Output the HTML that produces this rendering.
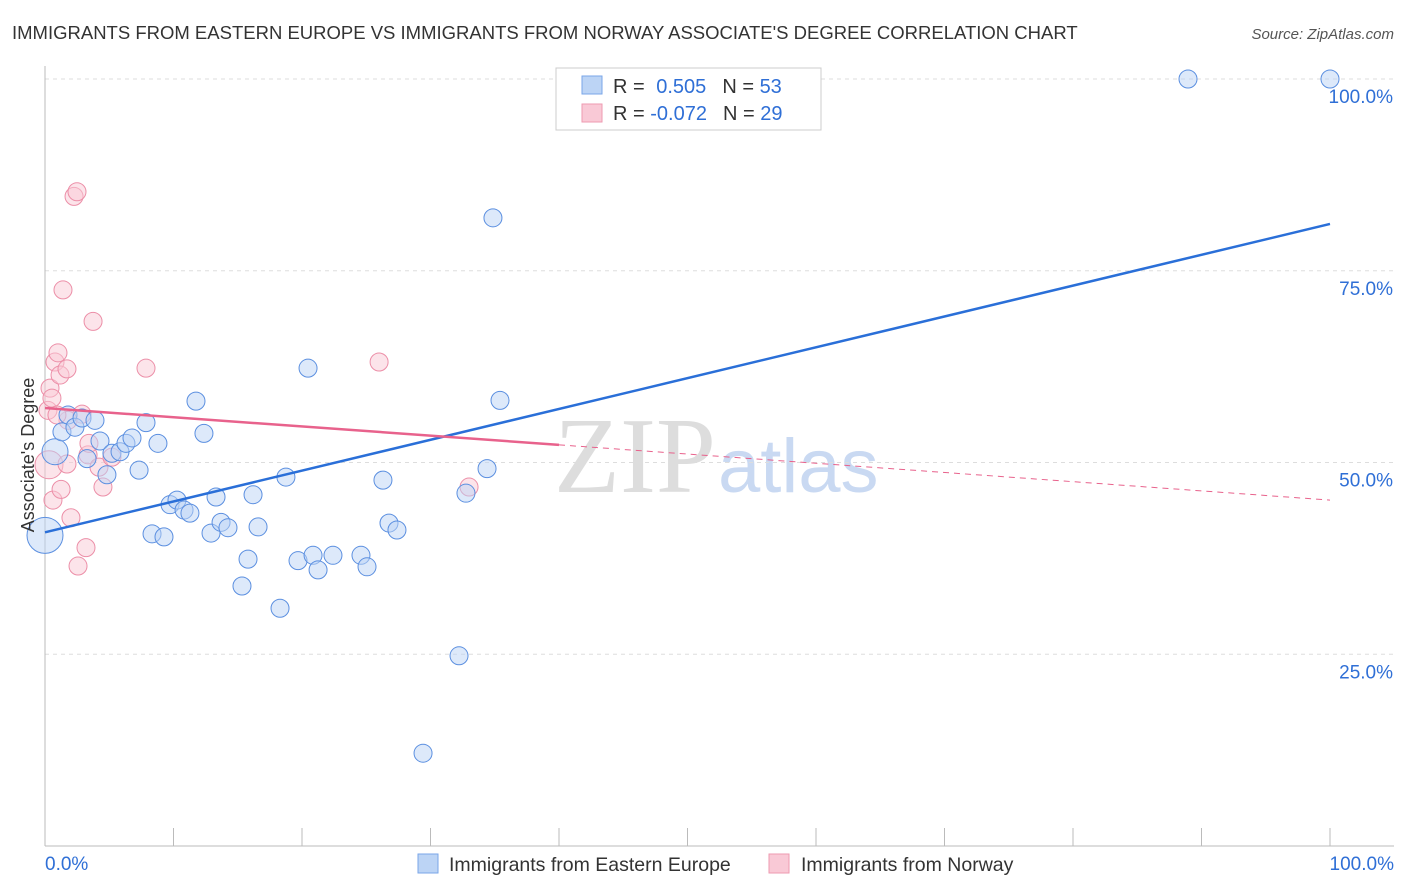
<!DOCTYPE html>
<html><head><meta charset="utf-8"><style>
body{margin:0;background:#fff;font-family:"Liberation Sans",sans-serif}
svg{display:block}
</style></head><body>
<svg id="chart" width="1406" height="892" xmlns="http://www.w3.org/2000/svg">
<text x="12" y="39" font-size="18.5" fill="#333">IMMIGRANTS FROM EASTERN EUROPE VS IMMIGRANTS FROM NORWAY ASSOCIATE'S DEGREE CORRELATION CHART</text>
<text x="1394" y="39" font-size="15" fill="#555" font-style="italic" text-anchor="end">Source: ZipAtlas.com</text>
<text x="716" y="492" font-size="108" fill="#ddd" font-family="Liberation Serif,serif" text-anchor="end">ZIP</text>
<text x="718" y="492" font-size="76" fill="#c9d9f2">atlas</text>
<g id="grid"></g><g id="axes"></g><g id="pts"></g><g id="lines"></g>
<text transform="translate(34,455) rotate(-90)" font-size="18" fill="#333" text-anchor="middle">Associate's Degree</text>
<g>
<rect x="556" y="68" width="265" height="62" fill="#fff" stroke="#ccc"/>
<rect x="582" y="76" width="20" height="18" fill="#bcd4f5" stroke="#7aa6e8"/>
<rect x="582" y="104" width="20" height="18" fill="#f9c9d6" stroke="#ee9ab0"/>
<text x="613" y="93" font-size="20" fill="#333">R = <tspan fill="#2f6fd6" dx="6">0.505</tspan><tspan dx="16" fill="#333">N = </tspan><tspan fill="#2f6fd6">53</tspan></text>
<text x="613" y="120" font-size="20" fill="#333">R = <tspan fill="#2f6fd6">-0.072</tspan><tspan dx="16" fill="#333">N = </tspan><tspan fill="#2f6fd6">29</tspan></text>
</g>
<g>
<rect x="418" y="854" width="20" height="19" fill="#bcd4f5" stroke="#7aa6e8"/>
<text x="449" y="871" font-size="19.5" fill="#333">Immigrants from Eastern Europe</text>
<rect x="769" y="854" width="20" height="19" fill="#f9c9d6" stroke="#ee9ab0"/>
<text x="801" y="871" font-size="19.5" fill="#333">Immigrants from Norway</text>
</g>
</svg>
<script>
const blueX=[0,0.78,1.32,1.79,2.33,2.88,3.89,3.27,4.28,4.82,5.21,5.84,6.30,6.77,7.32,7.86,8.33,8.79,9.26,9.73,10.27,10.82,11.28,11.75,12.37,12.92,13.31,13.70,14.24,15.33,15.80,16.19,16.58,18.29,18.75,19.69,20.47,20.86,21.25,22.41,24.59,25.06,26.30,26.77,27.39,29.42,32.22,32.76,34.40,34.86,35.41,88.95,100];
const blueY=[40.5,51.4,54.0,56.2,54.6,55.8,55.5,50.5,52.8,48.4,51.2,51.4,52.5,53.2,49.0,55.2,40.7,52.5,40.3,44.5,45.1,43.8,43.4,58.0,53.8,40.8,45.5,42.2,41.5,33.9,37.4,45.8,41.6,31.0,48.1,37.2,62.3,37.9,36.0,37.9,37.9,36.4,47.7,42.1,41.2,12.1,24.8,46.0,49.2,81.9,58.1,100,100];
const pinkX=[0.31,0.23,0.39,0.54,0.62,0.78,1.01,1.17,1.25,1.40,1.71,1.71,2.02,2.26,2.49,2.57,2.88,3.19,3.35,3.42,3.74,4.20,4.51,5.21,7.86,26.0,33.0,1.79,0.93];
const pinkY=[49.7,56.8,59.7,58.4,45.1,63.1,64.3,61.4,46.5,72.5,62.2,49.8,42.8,84.7,85.3,36.5,56.3,38.9,51.0,52.5,68.4,49.4,46.8,50.7,62.3,63.1,46.8,55.5,56.2];
const blueTrend=[40.9,81.1];
const pinkTrend=[57.1,45.1];
const yTicks=[25,50,75,100];
const NS="http://www.w3.org/2000/svg";
const X=v=>45+v*12.85, Y=v=>846-v*7.67;
function mk(tag,attrs,parent){const e=document.createElementNS(NS,tag);for(const k in attrs)e.setAttribute(k,attrs[k]);document.getElementById(parent).appendChild(e);return e;}
yTicks.forEach(t=>{
 const g=mk('line',{x1:45,x2:1394,y1:Y(t),y2:Y(t),stroke:'#ddd','stroke-dasharray':'4,4'},'grid');
 
 
 const l=mk('text',{x:1393,y:Y(t)+24,'font-size':19,fill:'#2f6fd6','text-anchor':'end'},'grid');
 l.textContent=t.toFixed(1)+'%';
 
 
});
let a=mk('line',{x1:45,x2:45,y1:66,y2:846,stroke:'#bbb'},'axes');


a=mk('line',{x1:45,x2:1394,y1:846,y2:846,stroke:'#bbb'},'axes');


for(let i=1;i<=10;i++){const t=mk('line',{x1:X(i*10),x2:X(i*10),y1:828,y2:846,stroke:'#bbb'},'axes');
 
 }
[[0,'0.0%','start',45],[100,'100.0%','end',1394]].forEach(d=>{const l=mk('text',{x:d[3],y:870,'font-size':19,fill:'#2f6fd6','text-anchor':d[2]},'axes');l.textContent=d[1];
 
 });
function pts(xs,ys,fill,stroke,name){xs.forEach((x,i)=>{const r=(i==0&&name=='blue-point')?18:(i==0?14:9);
 const c=mk('circle',{cx:X(x),cy:Y(ys[i]),r:(name=='blue-point'&&i==1)?13:r,fill:fill,'fill-opacity':0.5,stroke:stroke,'stroke-width':1},'pts');
 
 });}
pts(pinkX,pinkY,'#f9c9d6','#ec8fa8','pink-point');
pts(blueX,blueY,'#bcd4f5','#5b8fe0','blue-point');
let ln=mk('line',{x1:X(0),y1:Y(blueTrend[0]),x2:X(100),y2:Y(blueTrend[1]),stroke:'#2a6fd8','stroke-width':2.5},'lines');


const pAt=v=>pinkTrend[0]+(pinkTrend[1]-pinkTrend[0])*v/100;
ln=mk('line',{x1:X(0),y1:Y(pAt(0)),x2:X(40),y2:Y(pAt(40)),stroke:'#e8628c','stroke-width':2.5},'lines');


ln=mk('line',{x1:X(40),y1:Y(pAt(40)),x2:X(100),y2:Y(pAt(100)),stroke:'#e8628c','stroke-width':1,'stroke-dasharray':'6,5'},'lines');


</script>
</body></html>
